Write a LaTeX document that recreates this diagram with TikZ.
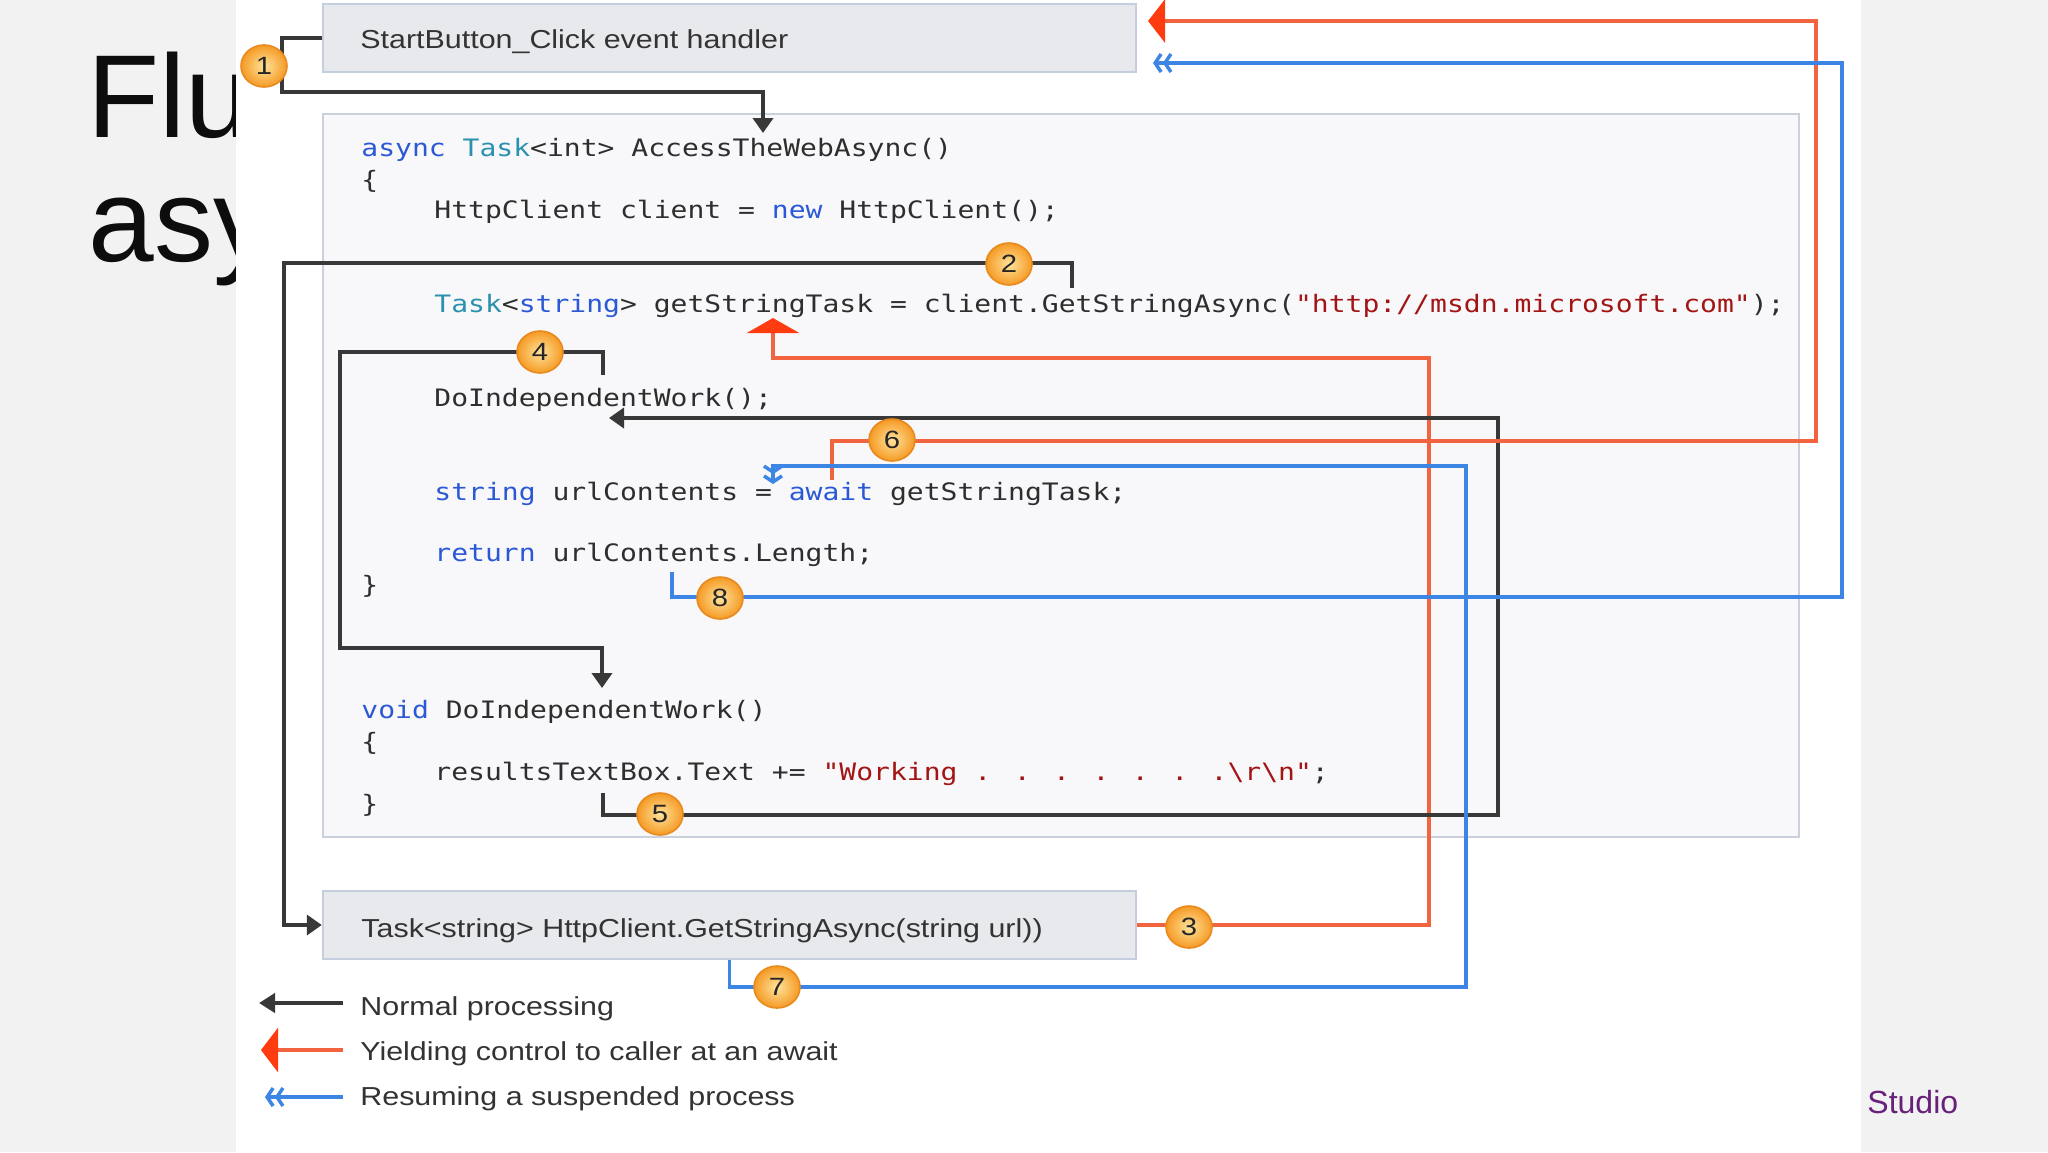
\documentclass[tikz,border=0pt]{standalone}
\usepackage{fontspec}
\setmainfont{Liberation Sans}
\newfontfamily\dsans{Liberation Sans}[FakeStretch=1.17]
\newfontfamily\codef{DejaVu Sans Mono}[FakeStretch=1.168]
\usetikzlibrary{arrows.meta,shapes.geometric}
\definecolor{bggray}{HTML}{F2F2F2}
\definecolor{boxfill}{HTML}{E8E9EC}
\definecolor{boxedge}{HTML}{C4CEDE}
\definecolor{codefill}{HTML}{F8F8FA}
\definecolor{codeedge}{HTML}{CAD1DD}
\definecolor{lineblk}{HTML}{383838}
\definecolor{linered}{HTML}{F26440}
\definecolor{tipred}{HTML}{FF3C10}
\definecolor{lineblue}{HTML}{3D85E5}
\definecolor{kwblue}{HTML}{2B59D6}
\definecolor{tyteal}{HTML}{2B91AF}
\definecolor{strred}{HTML}{A31515}
\definecolor{codeink}{HTML}{2E2E2E}
\definecolor{txtink}{HTML}{333333}
\definecolor{mkin}{HTML}{FFE39A}
\definecolor{mkout}{HTML}{F59A25}
\definecolor{mkedge}{HTML}{E88A1E}
\definecolor{vspurple}{HTML}{68217A}
\newcommand\ckw[1]{\textcolor{kwblue}{#1}}
\newcommand\cty[1]{\textcolor{tyteal}{#1}}
\newcommand\cst[1]{\textcolor{strred}{#1}}
\begin{document}
\begin{tikzpicture}[x=0.5pt,y=-0.5pt,
  boxnode/.style={rectangle, draw=boxedge, line width=1.2pt, fill=boxfill, inner sep=0pt, minimum width=406.5pt, minimum height=34pt},
  boxtext/.style={anchor=base west, inner sep=0pt, font=\dsans\fontsize{13}{13}\selectfont, text=txtink},
  code/.style={anchor=base west, inner sep=0pt, font=\codef\fontsize{12}{12}\selectfont, text=codeink},
  mk/.style={ellipse, minimum width=23pt, minimum height=21pt, inner sep=0pt, draw=mkedge, line width=0.8pt, inner color=mkin, outer color=mkout, font=\dsans\fontsize{12.5}{12.5}\selectfont, text=black!85},
  blk/.style={draw=lineblk, line width=2pt},
  redc/.style={draw=linered, line width=1.75pt},
  bluec/.style={draw=lineblue, line width=1.75pt},
  blktip/.style={-{Triangle[length=7.5pt,width=10pt]}},
  dbltip/.style={-{Straight Barb[length=3pt,width=9pt] Straight Barb[length=3pt,width=9pt]}},
  title/.style={anchor=base west, inner sep=0pt, font=\fontsize{59}{60}\selectfont, text=black!95}
]
\useasboundingbox (0,0) rectangle (2048,1152);
\fill[bggray] (0,0) rectangle (2048,1152);
% slide title (partly hidden)
\node[title] (ttl1) at (87,137) {Flu};
\node[title] (ttl2) at (88,261) {asy};
\fill[white] (236,0) rectangle (1861,1152);
\node[anchor=base west, inner sep=0pt, font=\fontsize{16}{16}\selectfont, text=vspurple] (studio) at (1867,1113) {Studio};

% boxes
\node[rectangle, draw=codeedge, line width=1pt, fill=codefill, minimum width=738pt, minimum height=361.5pt, inner sep=0pt] (codebox) at (1061,475.5) {};
\node[boxnode] (topbox) at (729.5,38) {};
\node[boxnode] (botbox) at (729.5,925) {};
\node[boxtext] (toptext) at (360,48) {StartButton\_Click event handler};
\node[boxtext] (bottext) at (361,937) {Task<string> HttpClient.GetStringAsync(string url))};

% code
\node[code] (l1) at (361,156) {\ckw{async} \cty{Task}<int> AccessTheWebAsync()};
\node[code] (l2) at (361,188) {\{};
\node[code] (l3) at (434,218) {HttpClient client = \ckw{new} HttpClient();};
\node[code] (l4) at (434,312) {\cty{Task}<\ckw{string}> getStringTask = client.GetStringAsync(\cst{"http://msdn.microsoft.com"});};
\node[code] (l5) at (434,406) {DoIndependentWork();};
\node[code] (l6) at (434,500) {\ckw{string} urlContents = \ckw{await} getStringTask;};
\node[code] (l7) at (434,561) {\ckw{return} urlContents.Length;};
\node[code] (l8) at (361,593) {\}};
\node[code] (l9) at (361,718) {\ckw{void} DoIndependentWork()};
\node[code] (l10) at (361,750) {\{};
\node[code] (l11) at (434,780) {resultsTextBox.Text += \cst{"Working . . . . . . .\textbackslash r\textbackslash n"};};
\node[code] (l12) at (361,812) {\}};

% connector coordinates
\coordinate (c1) at (282,92);
\coordinate (e1) at (763,133);
\coordinate (s2) at (1072,288);
\coordinate (c2) at (284,263);
\coordinate (c3) at (1429,358);
\coordinate (e3) at (773,318);
\coordinate (s4) at (603,375);
\coordinate (c4) at (340,352);
\coordinate (c4b) at (340,648);
\coordinate (e4) at (602,688);
\coordinate (s5) at (603,793);
\coordinate (c5) at (1498,815);
\coordinate (e5) at (609,418);
\coordinate (s6) at (832,480);
\coordinate (c6) at (1816,441);
\coordinate (e6) at (1148,21);
\coordinate (c7) at (1466,987);
\coordinate (c7b) at (773,466);
\coordinate (e7) at (773,484);
\coordinate (s8) at (672,572);
\coordinate (c8) at (1842,597);
\coordinate (e8) at (1153,63);

% connectors
\draw[blk, blktip] (topbox.west) -| (c1) -| (e1);
\draw[blk, blktip] (s2) |- (c2) |- (botbox.west);
\draw[redc, -{Triangle[length=7.5pt,width=26pt,color=tipred]}] (botbox.east) -| (c3) -| (e3);
\draw[blk, blktip] (s4) |- (c4) -- (c4b) -| (e4);
\draw[blk, blktip] (s5) |- (c5) |- (e5);
\draw[redc, -{Triangle[length=8.5pt,width=21.5pt,color=tipred]}] (s6) |- (c6) |- (e6);
\draw[bluec, dbltip] (botbox.south) |- (c7) |- (c7b) -- (e7);
\draw[bluec, dbltip] (s8) |- (c8) |- (e8);

% markers
\node[mk] (m1) at (264,66) {1};
\node[mk] (m2) at (1009,264) {2};
\node[mk] (m3) at (1189,927) {3};
\node[mk] (m4) at (540,352) {4};
\node[mk] (m5) at (660,814) {5};
\node[mk] (m6) at (892,440) {6};
\node[mk] (m7) at (777,987) {7};
\node[mk] (m8) at (720,598) {8};

% legend
\coordinate (g1s) at (343,1003);
\coordinate (g1e) at (259,1003);
\coordinate (g2s) at (343,1050);
\coordinate (g2e) at (261,1050);
\coordinate (g3s) at (343,1097);
\coordinate (g3e) at (265,1097);
\draw[blk, -{Triangle[length=8pt,width=9.5pt]}] (g1s) -- (g1e);
\draw[redc, -{Triangle[length=8.5pt,width=22pt,color=tipred]}] (g2s) -- (g2e);
\draw[bluec, dbltip] (g3s) -- (g3e);
\node[boxtext] (lg1) at (360,1015) {Normal processing};
\node[boxtext] (lg2) at (360,1060) {Yielding control to caller at an await};
\node[boxtext] (lg3) at (360,1105) {Resuming a suspended process};
\end{tikzpicture}
\end{document}
